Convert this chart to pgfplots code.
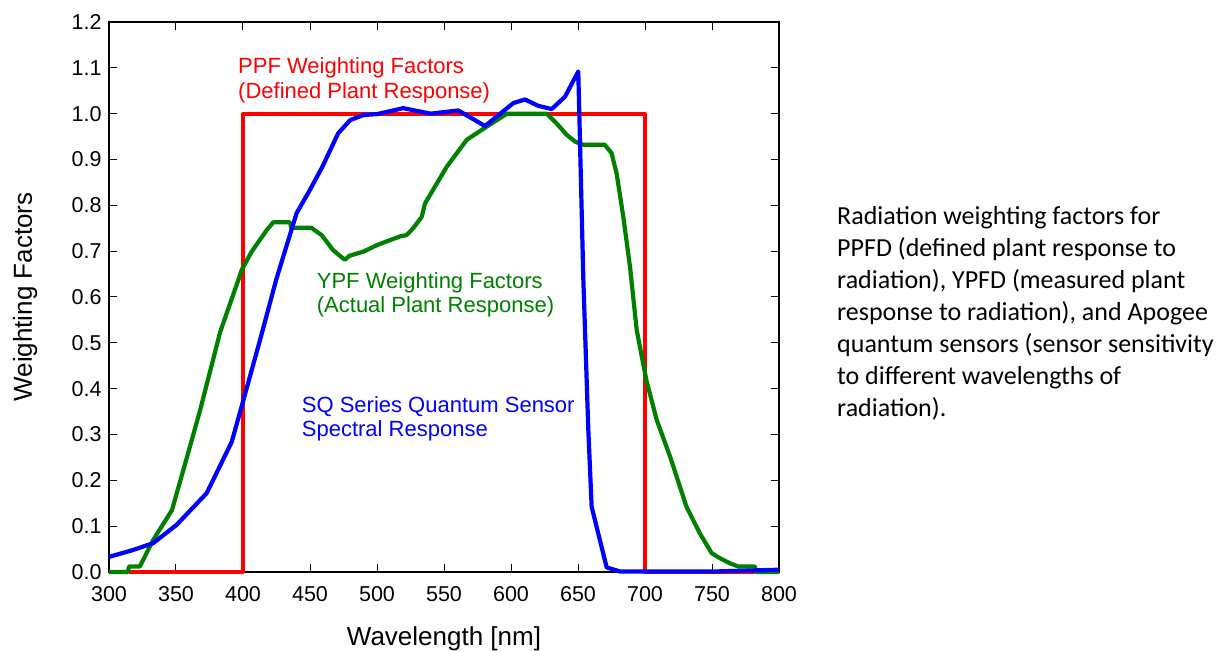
\documentclass[border=0pt]{standalone}
\usepackage{pgfplots}
\pgfplotsset{compat=1.18}
\usepackage{fontspec}
\setmainfont{Liberation Sans}
\newfontfamily\capfont{Carlito}

\definecolor{ppfred}{RGB}{255,0,0}
\definecolor{ypfgreen}{RGB}{0,128,0}
\definecolor{sqblue}{RGB}{0,0,255}

\begin{document}
\begin{tikzpicture}
\path[use as bounding box] (-109pt,-79pt) rectangle (1118pt,572pt);
\begin{axis}[
  scale only axis,
  width=670pt, height=550pt,
  xmin=300, xmax=800, ymin=0, ymax=1.2,
  xtick={300,350,...,800},
  ytick={0,0.1,...,1.2},
  tick align=inside,
  major tick length=8pt,
  axis line style={line width=1.2pt},
  every tick/.style={black, line width=1pt},
  tick label style={font=\fontsize{21.5}{24}\selectfont},
  xticklabel style={yshift=-11pt},
  yticklabel style={xshift=-4pt},
  /pgf/number format/.cd, fixed, fixed zerofill, precision=1,
    assume math mode=true, 1000 sep={},
  /pgfplots/.cd,
  xticklabel={\pgfmathprintnumber[fixed, precision=0]{\tick}},
  label style={font=\fontsize{26}{30}\selectfont},
  xlabel={Wavelength [nm]},
  ylabel={Weighting Factors},
  xlabel style={at={(axis description cs:0.5,-0.122)}, anchor=center},
  ylabel style={at={(axis description cs:-0.125,0.5)}, anchor=center},
  every axis plot/.append style={line width=4.2pt, line join=round},
  clip=false,
]
% PPF weighting factors (defined plant response)
\addplot[ppfred] coordinates {
  (315,0) (400,0) (400,1) (700,1) (700,0) (782,0)
};
% YPF weighting factors (actual plant response)
\addplot[ypfgreen] coordinates {
  (300,0) (314,0) (315,0.012) (323,0.012) (333,0.07) (347,0.135)
  (359,0.259) (368,0.353) (383,0.524) (396.5,0.637) (399,0.659)
  (406.5,0.699) (417.7,0.746) (422.6,0.763) (435,0.763) (436,0.751)
  (451,0.751) (458.7,0.735) (467,0.703) (476,0.681) (479.5,0.69)
  (489.8,0.699) (499.8,0.713) (509.7,0.724) (517,0.732) (522,0.735)
  (527,0.75) (533.4,0.775) (535.8,0.804) (552,0.884) (567,0.943)
  (582,0.972) (597,1.0) (626.6,1.0) (634,0.979) (641.5,0.954)
  (647.8,0.939) (654,0.932) (670,0.932) (675,0.914) (678.8,0.87)
  (683.8,0.775) (688.8,0.666) (693.8,0.528) (701,0.419) (708.7,0.332)
  (718.7,0.252) (731,0.142) (741,0.084) (749.8,0.041) (756,0.03)
  (763.4,0.019) (769.6,0.012) (782,0.012) (783,0) (800,0)
};
% SQ series quantum sensor spectral response
\addplot[sqblue] coordinates {
  (300,0.033) (318,0.048) (333,0.063) (350.5,0.103) (372.9,0.172)
  (391.6,0.284) (400.3,0.375) (412.7,0.506) (425,0.64) (440,0.783)
  (450,0.834) (458.7,0.881) (471,0.957) (480,0.986) (489.8,0.997)
  (500,0.999) (519.6,1.012) (540,1.0) (560.7,1.007) (580.6,0.973)
  (601.7,1.023) (610.4,1.031) (620.4,1.017) (630.4,1.01) (640.3,1.037)
  (650.2,1.092) (654,0.637) (657.7,0.31) (660.2,0.142) (671.4,0.01)
  (681.4,0.001) (750,0.001) (800,0.005)
};
\end{axis}

\begin{scope}[every node/.style={anchor=base west, inner sep=0pt,
    font=\fontsize{22}{25}\selectfont}]
  \node[text=ppfred] at (129pt,498pt) {PPF Weighting Factors};
  \node[text=ppfred] at (129pt,473pt) {(Defined Plant Response)};
  \node[text=ypfgreen] at (207.7pt,283.7pt) {YPF Weighting Factors};
  \node[text=ypfgreen] at (207.7pt,259pt) {(Actual Plant Response)};
  \node[text=sqblue] at (192.7pt,159pt) {SQ Series Quantum Sensor};
  \node[text=sqblue] at (192.7pt,135pt) {Spectral Response};
\end{scope}

\begin{scope}[every node/.style={anchor=base west, inner sep=0pt,
    font=\capfont\fontsize{26}{32}\selectfont}]
  \node at (728pt,347pt) {Radiation weighting factors for};
  \node at (728pt,315pt) {PPFD (defined plant response to};
  \node at (728pt,283pt) {radiation), YPFD (measured plant};
  \node at (728pt,251pt) {response to radiation), and Apogee};
  \node at (728pt,219pt) {quantum sensors (sensor sensitivity};
  \node at (728pt,187pt) {to different wavelengths of};
  \node at (728pt,155pt) {radiation).};
\end{scope}
\end{tikzpicture}
\end{document}
